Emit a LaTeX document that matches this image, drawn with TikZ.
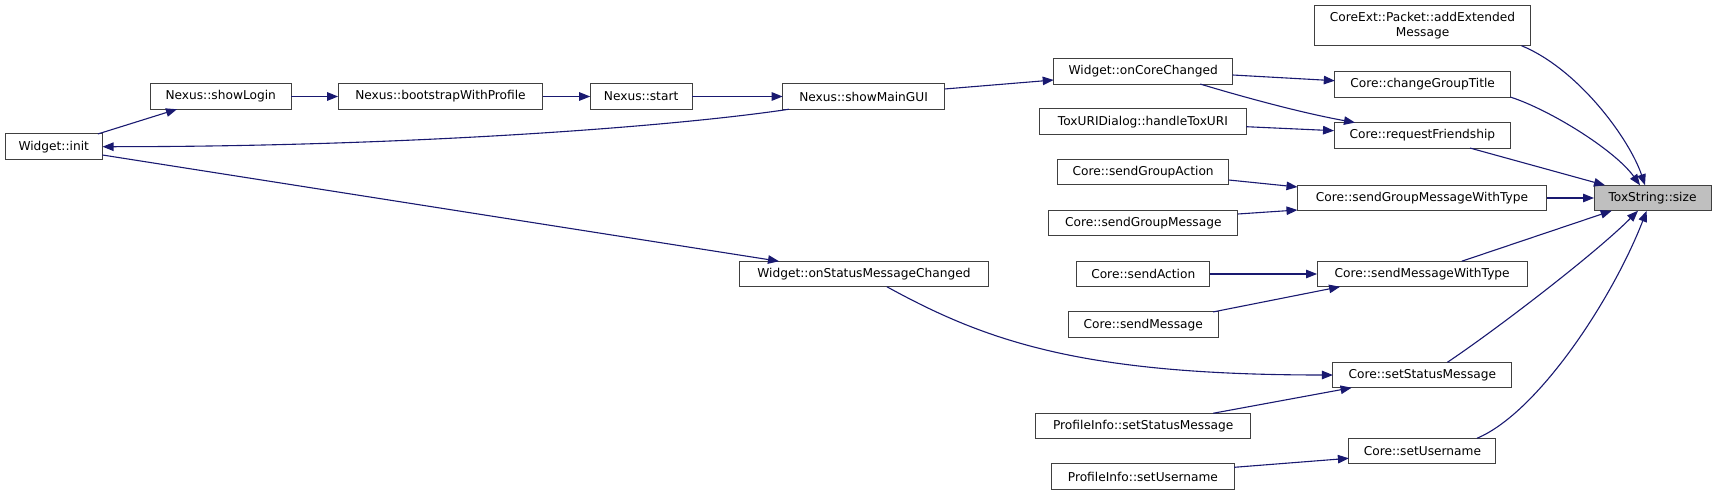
\documentclass[tikz,border=0pt]{standalone}
\usepackage{fontspec}
\setmainfont{DejaVu Sans}
\usetikzlibrary{arrows.meta,calc}
\definecolor{edgec}{HTML}{191970}
\definecolor{bord}{HTML}{404040}
\definecolor{tsfill}{HTML}{BFBFBF}
\begin{document}
\begin{tikzpicture}[x=1pt,y=-1pt,
  fn/.style={draw=bord, line width=1pt, fill=white, inner sep=0pt, outer sep=0pt,
    minimum height=25.5pt, font=\fontsize{12.2}{15}\selectfont, align=center},
  ed/.style={draw=edgec, line width=1.1pt, -{Triangle[length=11pt,width=8.5pt]}}]
\useasboundingbox (0,0) rectangle (1716,495);
% column 1
\node[fn, minimum width=97.5pt] (init) at (53.75,146.7) {Widget::init};
\node[fn, minimum width=140.6pt] (sLogin) at (220.7,96.5) {Nexus::showLogin};
\node[fn, minimum width=204.7pt] (boot) at (440.5,96.5) {Nexus::bootstrapWithProfile};
\node[fn, minimum width=101.8pt] (nstart) at (641.1,96.5) {Nexus::start};
\node[fn, minimum width=161.9pt] (sMG) at (863.6,96.5) {Nexus::showMainGUI};
\node[fn, minimum width=248.8pt] (oSMC) at (863.9,274) {Widget::onStatusMessageChanged};
% column 2
\node[fn, minimum width=179pt] (oCC) at (1143.2,71.3) {Widget::onCoreChanged};
\node[fn, minimum width=206.7pt] (tux) at (1142.9,121.7) {ToxURIDialog::handleToxURI};
\node[fn, minimum width=171.2pt] (sGA) at (1143.1,172) {Core::sendGroupAction};
\node[fn, minimum width=189pt] (sGM) at (1143.3,223) {Core::sendGroupMessage};
\node[fn, minimum width=133pt] (sA) at (1143.25,274) {Core::sendAction};
\node[fn, minimum width=150.4pt] (sM) at (1143.2,324.7) {Core::sendMessage};
\node[fn, minimum width=215pt] (pSSM) at (1143.2,426) {ProfileInfo::setStatusMessage};
\node[fn, minimum width=182.6pt] (pSU) at (1142.9,476.7) {ProfileInfo::setUsername};
% column 3
\node[fn, minimum width=216.3pt, minimum height=40pt] (cext) at (1422.5,25.7) {CoreExt::Packet::addExtended\\Message};
\node[fn, minimum width=175.6pt] (cGT) at (1422.6,84.3) {Core::changeGroupTitle};
\node[fn, minimum width=176.7pt] (rF) at (1422.4,135.3) {Core::requestFriendship};
\node[fn, minimum width=249pt] (sGMWT) at (1422,198) {Core::sendGroupMessageWithType};
\node[fn, minimum width=210.3pt] (sMWT) at (1422.2,274) {Core::sendMessageWithType};
\node[fn, minimum width=179pt] (sSM) at (1422.4,375) {Core::setStatusMessage};
\node[fn, minimum width=147pt] (sU) at (1422.4,451) {Core::setUsername};
% target
\node[fn, fill=tsfill, minimum width=117pt] (ts) at (1652.5,198) {ToxString::size};
% edges into ToxString::size
\draw[ed] ($(cext.south)+(99,0)$) .. controls +(58,24) and +(-15,-45) .. ($(ts.north)+(-7.5,0)$);
\draw[ed] (cGT.south east) .. controls +(40,13) and +(-25,-35) .. ($(ts.north)+(-12.5,0)$);
\draw[ed] ($(rF.south)+(47.6,0)$) -- ($(ts.north west)+(11,0)$);
\draw[ed] (sGMWT.east) -- (ts.west);
\draw[ed] ($(sMWT.north)+(39.5,0)$) -- ($(ts.south west)+(17.7,0)$);
\draw[ed] ($(sSM.north)+(25,0)$) .. controls +(45,-30) and +(-45,45) .. ($(ts.south)+(-14.5,0)$);
\draw[ed] ($(sU.north)+(54.6,0)$) .. controls +(60,-25) and +(-35,90) .. ($(ts.south)+(-5.8,0)$);
% column 2 -> column 3
\draw[ed] ($(oCC.east)+(0,3.7)$) -- ($(cGT.west)+(0,-3.6)$);
\draw[ed] ($(oCC.south)+(57,0)$) .. controls +(50,15) and +(-50,-9) .. ($(rF.north)+(-67.4,0)$);
\draw[ed] ($(tux.east)+(0,5)$) -- ($(rF.west)+(0,-4.6)$);
\draw[ed] ($(sGA.east)+(0,8)$) -- ($(sGMWT.west)+(0,-11)$);
\draw[ed] ($(sGM.east)+(0,-9)$) -- ($(sGMWT.west)+(0,12)$);
\draw[ed] (sA.east) -- (sMWT.west);
\draw[ed] ($(sM.north east)+(-5.4,0)$) -- ($(sMWT.south west)+(23,0)$);
\draw[ed] ($(oSMC.south)+(23,0)$) .. controls +(100,55) and +(-250,0) .. (sSM.west);
\draw[ed] ($(pSSM.north)+(70,0)$) -- ($(sSM.south west)+(18.7,0)$);
\draw[ed] ($(pSU.east)+(0,-9.4)$) -- ($(sU.west)+(0,7.3)$);
% column 1 chain
\draw[ed] ($(sMG.east)+(0,-7.5)$) -- ($(oCC.west)+(0,8.7)$);
\draw[ed] (nstart.east) -- (sMG.west);
\draw[ed] (boot.east) -- (nstart.west);
\draw[ed] (sLogin.east) -- (boot.west);
\draw[ed] ($(init.north east)+(-4.6,0)$) -- ($(sLogin.south west)+(26.6,0)$);
\draw[ed] ($(sMG.south west)+(6.3,0)$) .. controls +(-120,18) and +(300,0) .. (init.east);
\draw[ed] ($(init.east)+(0,8.3)$) -- ($(oSMC.north west)+(39.5,0)$);
\end{tikzpicture}
\end{document}
